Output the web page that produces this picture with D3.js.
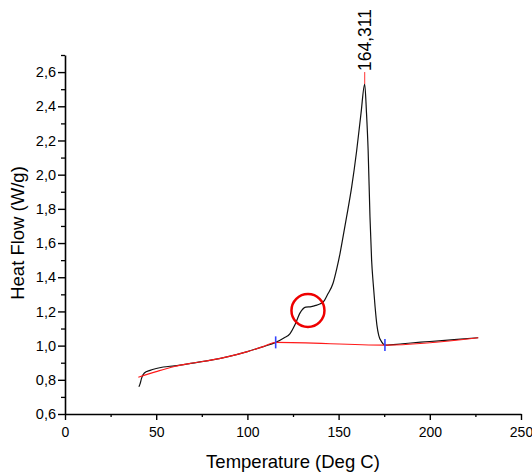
<!DOCTYPE html>
<html>
<head>
<meta charset="utf-8">
<script src="https://cdn.jsdelivr.net/npm/d3@7"></script>
<style>
  body { margin: 0; background: #fff; }
  svg text { font-family: Arial, "Liberation Sans", sans-serif; fill: #000; }
</style>
</head>
<body>
<div id="chart"></div>
<script>
// measured DSC curve: [temperature, heat flow]
var tempC = [40.5, 41.1, 42, 43.5, 46.6, 50, 53.9, 60, 70, 80, 90, 100, 108.7, 115.5, 120, 123.4, 126, 128.8, 132, 135, 137.5, 140, 141.6, 144, 147, 149, 150.8, 152.5, 154.4, 157.2, 159.9, 162.3, 164.3, 165.3, 166.2, 167.2, 168.1, 169, 170, 171, 172, 173.6, 175.4, 185, 195, 205, 215, 226.5];
var heatFlow = [0.76, 0.775, 0.81, 0.84, 0.855, 0.866, 0.875, 0.882, 0.898, 0.915, 0.937, 0.965, 0.994, 1.019, 1.045, 1.07, 1.12, 1.19, 1.225, 1.228, 1.235, 1.245, 1.255, 1.30, 1.366, 1.45, 1.54, 1.64, 1.754, 1.93, 2.14, 2.36, 2.53, 2.36, 2.14, 1.754, 1.50, 1.36, 1.227, 1.12, 1.06, 1.022, 1.003, 1.011, 1.02, 1.028, 1.037, 1.046];

// fitted baseline (red)
var baseTemp = [40.2, 50, 60, 70, 80, 90, 100, 108.7, 115.5, 175.4, 226.6];
var baseFlow = [0.815, 0.848, 0.878, 0.898, 0.915, 0.937, 0.965, 0.994, 1.019, 1.003, 1.046];

// integration limits (blue marks)
var limitTemp = [115.5, 175.4];
var limitFlow = [1.019, 1.003];

var peakTemp = 164.311, peakFlow = 2.53;
var shoulderTemp = 133.2, shoulderFlow = 1.205;

var xTicks = [0, 50, 100, 150, 200, 250];
var xMinor = [25, 75, 125, 175, 225];
var yTicks = [0.6, 0.8, 1.0, 1.2, 1.4, 1.6, 1.8, 2.0, 2.2, 2.4, 2.6];
var yMinor = [0.7, 0.9, 1.1, 1.3, 1.5, 1.7, 1.9, 2.1, 2.3, 2.5, 2.7];

var width = 532, height = 475;

var x = d3.scaleLinear().domain([0, 250]).range([65, 521]);
var y = d3.scaleLinear().domain([0.6, 2.7]).range([414, 55]);

var svg = d3.select("#chart").append("svg")
    .attr("width", width)
    .attr("height", height);

var commaFmt = function (d) { return d3.format(".1f")(d).replace(".", ","); };

// minor ticks
svg.append("g")
    .attr("transform", "translate(0," + y(0.6) + ")")
    .call(d3.axisBottom(x).tickValues(xMinor).tickSize(3).tickFormat(""))
    .call(function (g) { g.select(".domain").remove(); })
    .selectAll("line").attr("stroke-width", 1.3);

svg.append("g")
    .attr("transform", "translate(" + x(0) + ",0)")
    .call(d3.axisLeft(y).tickValues(yMinor).tickSize(4).tickFormat(""))
    .call(function (g) { g.select(".domain").remove(); })
    .selectAll("line").attr("stroke-width", 1.3);

// major axes
var xAxis = svg.append("g")
    .attr("transform", "translate(0," + y(0.6) + ")")
    .call(d3.axisBottom(x).tickValues(xTicks).tickSize(6).tickSizeOuter(0).tickPadding(7));
xAxis.select(".domain").attr("stroke-width", 1.6);
xAxis.selectAll("line").attr("stroke-width", 1.4);
xAxis.selectAll("text").style("font-size", "14px");

var yAxis = svg.append("g")
    .attr("transform", "translate(" + x(0) + ",0)")
    .call(d3.axisLeft(y).tickValues(yTicks).tickFormat(commaFmt).tickSize(7).tickSizeOuter(0).tickPadding(2));
yAxis.select(".domain").attr("stroke-width", 1.6);
yAxis.selectAll("line").attr("stroke-width", 1.4);
yAxis.selectAll("text").style("font-size", "14.5px");

// axis titles
svg.append("text")
    .attr("x", 293)
    .attr("y", 468)
    .attr("text-anchor", "middle")
    .style("font-size", "18.5px")
    .text("Temperature (Deg C)");

svg.append("text")
    .attr("transform", "translate(24," + 233 + ") rotate(-90)")
    .attr("text-anchor", "middle")
    .style("font-size", "18.5px")
    .text("Heat Flow (W/g)");

// curve
var curve = d3.line()
    .x(function (d) { return x(d[0]); })
    .y(function (d) { return y(d[1]); })
    .curve(d3.curveMonotoneX);

svg.append("path")
    .datum(d3.zip(tempC, heatFlow))
    .attr("fill", "none")
    .attr("stroke", "#111")
    .attr("stroke-width", 1.2)
    .attr("d", curve);

svg.append("path")
    .datum(d3.zip(baseTemp, baseFlow))
    .attr("fill", "none")
    .attr("stroke", "#ff1a1a")
    .attr("stroke-width", 1.1)
    .attr("d", curve);

// integration limit marks
svg.selectAll(".limit")
    .data(d3.zip(limitTemp, limitFlow))
    .enter().append("line")
    .attr("class", "limit")
    .attr("x1", function (d) { return x(d[0]); })
    .attr("x2", function (d) { return x(d[0]); })
    .attr("y1", function (d) { return y(d[1]) - 6; })
    .attr("y2", function (d) { return y(d[1]) + 6; })
    .attr("stroke", "#3344ff")
    .attr("stroke-width", 1.6);

// peak marker + label
svg.append("line")
    .attr("x1", x(peakTemp)).attr("x2", x(peakTemp))
    .attr("y1", y(peakFlow) - 12).attr("y2", y(peakFlow))
    .attr("stroke", "#ff3333")
    .attr("stroke-width", 1);

svg.append("text")
    .attr("transform", "translate(" + x(peakTemp) + "," + (y(peakFlow) - 13) + ") rotate(-90)")
    .attr("dy", "0.35em")
    .attr("text-anchor", "start")
    .style("font-size", "17.5px")
    .text(String(peakTemp).replace(".", ","));

// shoulder highlight
svg.append("circle")
    .attr("cx", x(shoulderTemp))
    .attr("cy", y(shoulderFlow))
    .attr("r", 16.5)
    .attr("fill", "none")
    .attr("stroke", "#ee0000")
    .attr("stroke-width", 2.5);
</script>
</body>
</html>
